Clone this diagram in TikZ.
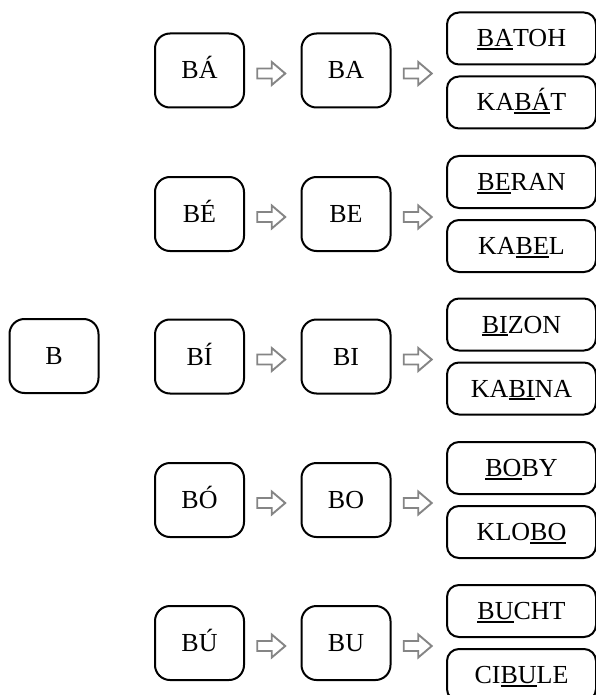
\documentclass[tikz,border=0pt]{standalone}
\usepackage{fontspec}
\setmainfont{Liberation Serif}
\usetikzlibrary{calc}
\newcommand{\myul}[1]{\setbox0\hbox{#1}\rlap{\rule[-3pt]{\wd0}{1.8pt}}\box0}
\begin{document}
\begin{tikzpicture}[x=1pt,y=-1pt,
  box/.style={draw, line width=2pt, rounded corners=15pt, minimum width=89pt,
    minimum height=74pt, inner sep=0pt, font=\fontsize{26}{30}\selectfont,
    text height=17pt, text depth=0pt},
  wbox/.style={box, minimum width=149pt, minimum height=52pt, rounded corners=12pt},
  barrow/.style={draw=black!48, line width=1.9pt, fill=white, line join=miter}]
\useasboundingbox (0,0) rectangle (596,695);

\node[box] (b) at (54,356) {B};

\foreach \y/\a/\c/\t/\u [count=\i] in {
  70.5/BÁ/BA/{\myul{BA}TOH}/{KA\myul{BÁ}T},
  214/BÉ/BE/{\myul{BE}RAN}/{KA\myul{BE}L},
  356.5/BÍ/BI/{\myul{BI}ZON}/{KA\myul{BI}NA},
  500/BÓ/BO/{\myul{BO}BY}/{KLO\myul{BO}},
  643/BÚ/BU/{\myul{BU}CHT}/{CI\myul{BU}LE}} {
  \node[box] (l\i) at (199.5,\y) {\a};
  \node[box] (m\i) at (346,\y) {\c};
  \node[wbox] (t\i) at (521.5,\y-32) {\t};
  \node[wbox] (w\i) at (521.5,\y+32) {\u};
  \coordinate (p\i) at ($(l\i.east)!0.5!(m\i.west)+(-1.5,3)$);
  \coordinate (q\i) at ($(m\i.east)!0.5!($(t\i.west)!0.5!(w\i.west)$)+(-1,3)$);
  \foreach \k in {p\i,q\i} {
    \begin{scope}[shift={(\k)}]
      \draw[barrow] (-14,-5) -- (0.5,-5) -- (0.5,-11.5) -- (14,0)
        -- (0.5,11.5) -- (0.5,5) -- (-14,5) -- cycle;
    \end{scope}
  }
}
\end{tikzpicture}
\end{document}
